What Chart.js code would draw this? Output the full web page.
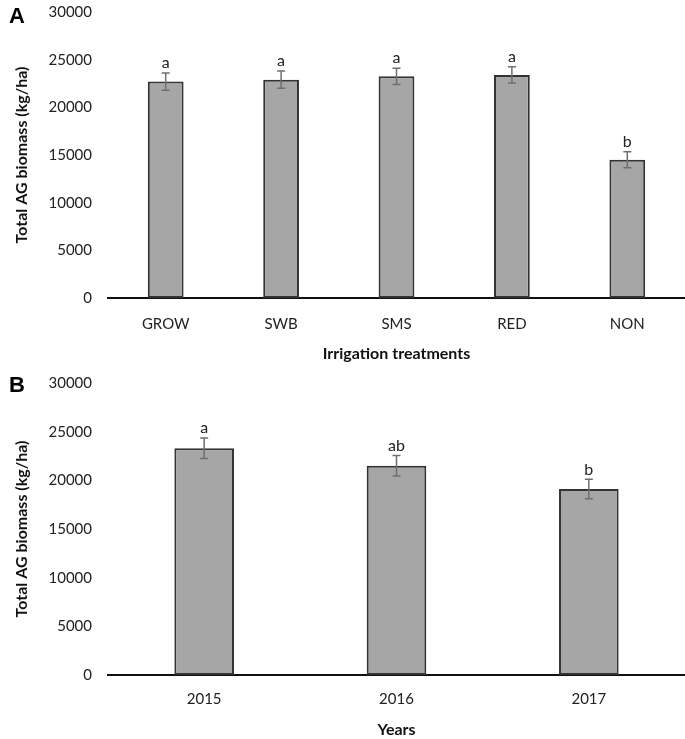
<!DOCTYPE html>
<html>
<head>
<meta charset="utf-8">
<script src="https://cdn.jsdelivr.net/npm/chart.js@4.4.0/dist/chart.umd.min.js"></script>
<style>
  body { margin: 0; background: #fff; overflow: hidden; }
  .panel { position: absolute; left: 0; width: 685px; }
  .tag { position: absolute; font-family: "Liberation Sans", Arial, sans-serif; font-weight: bold; font-size: 22px; color: #000; z-index: 2; }
</style>
</head>
<body>
<div class="panel" id="panelA" style="top:-13px"><canvas id="chartA" width="685" height="379"></canvas></div>
<div class="panel" id="panelB" style="top:358px"><canvas id="chartB" width="685" height="381"></canvas></div>
<div class="tag" style="left:9px;top:3px">A</div>
<div class="tag" style="left:9px;top:372px">B</div>
<script>
// panel A - irrigation treatments
const treatments = ['GROW', 'SWB', 'SMS', 'RED', 'NON'];
const biomassTreat = [22700, 22900, 23250, 23400, 14500];
const errTreat = [900, 900, 850, 850, 850];
const lettersTreat = ['a', 'a', 'a', 'a', 'b'];

// panel B - years
const years = ['2015', '2016', '2017'];
const biomassYear = [23300, 21500, 19100];
const errYear = [1050, 1050, 1000];
const lettersYear = ['a', 'ab', 'b'];

const yTicks = [0, 5000, 10000, 15000, 20000, 25000, 30000];

const FONT = 'Lato, "Open Sans", sans-serif';

// draws error bars + significance letters from the scales
const errorBarPlugin = {
  id: 'errorBars',
  afterDatasetsDraw(chart, args, opts) {
    const ctx = chart.ctx;
    const meta = chart.getDatasetMeta(0);
    const yScale = chart.scales.y;
    const vals = chart.data.datasets[0].data;
    ctx.save();
    meta.data.forEach((bar, i) => {
      const x = bar.x;
      const yTop = yScale.getPixelForValue(vals[i] + opts.err[i]);
      const yBot = yScale.getPixelForValue(vals[i] - opts.err[i]);
      ctx.strokeStyle = '#6f6f6f';
      ctx.lineWidth = 1.5;
      ctx.beginPath();
      ctx.moveTo(x, yTop); ctx.lineTo(x, yBot);
      ctx.moveTo(x - 4, yTop); ctx.lineTo(x + 4, yTop);
      ctx.moveTo(x - 4, yBot); ctx.lineTo(x + 4, yBot);
      ctx.stroke();
      ctx.fillStyle = '#222';
      ctx.font = '16px ' + FONT;
      ctx.textAlign = 'center';
      ctx.textBaseline = 'bottom';
      ctx.fillText(opts.letters[i], x, yTop - 2);
    });
    ctx.restore();
  }
};

function makeChart(id, labels, values, err, letters, xTitle, xHeight, tickPad, titlePad) {
  return new Chart(document.getElementById(id), {
    type: 'bar',
    data: {
      labels: labels,
      datasets: [{
        data: values,
        backgroundColor: '#a6a6a6',
        borderColor: '#333333',
        borderWidth: 2,
        borderSkipped: false,
        categoryPercentage: 1,
        barPercentage: 0.31
      }]
    },
    options: {
      responsive: false,
      animation: false,
      layout: { padding: { top: 2, right: 0, left: 0, bottom: 0 } },
      plugins: {
        legend: { display: false },
        tooltip: { enabled: false },
        errorBars: { err: err, letters: letters }
      },
      scales: {
        x: {
          afterFit(scale) { scale.height = xHeight; },
          grid: { display: false, drawTicks: false },
          border: { display: true, color: '#111', width: 2 },
          ticks: { color: '#222', font: { family: FONT, size: 15 }, padding: tickPad },
          title: { display: true, text: xTitle, color: '#111', font: { family: FONT, size: 16, weight: 'bold' }, padding: { top: 0, bottom: titlePad } }
        },
        y: {
          min: 0, max: 30000,
          afterBuildTicks(scale) { scale.ticks = yTicks.map(v => ({ value: v })); },
          afterFit(scale) { scale.width = 108; },
          grid: { display: false, drawTicks: false },
          border: { display: false },
          ticks: { color: '#222', font: { family: FONT, size: 15 }, padding: 16, callback: v => String(v) },
          title: { display: true, text: 'Total AG biomass (kg/ha)', color: '#111', font: { family: FONT, size: 16, weight: 'bold' }, padding: { top: 12, bottom: 0 } }
        }
      }
    },
    plugins: [errorBarPlugin]
  });
}

const chartA = makeChart('chartA', treatments, biomassTreat, errTreat, lettersTreat, 'Irrigation treatments', 68, 17, 3);
const chartB = makeChart('chartB', years, biomassYear, errYear, lettersYear, 'Years', 64, 15, 0);

// line the plot tops up with the page layout (30000 level with the panel letters)
document.getElementById('panelA').style.top = (12 - chartA.chartArea.top) + 'px';
document.getElementById('panelB').style.top = (383 - chartB.chartArea.top) + 'px';
</script>
</body>
</html>
